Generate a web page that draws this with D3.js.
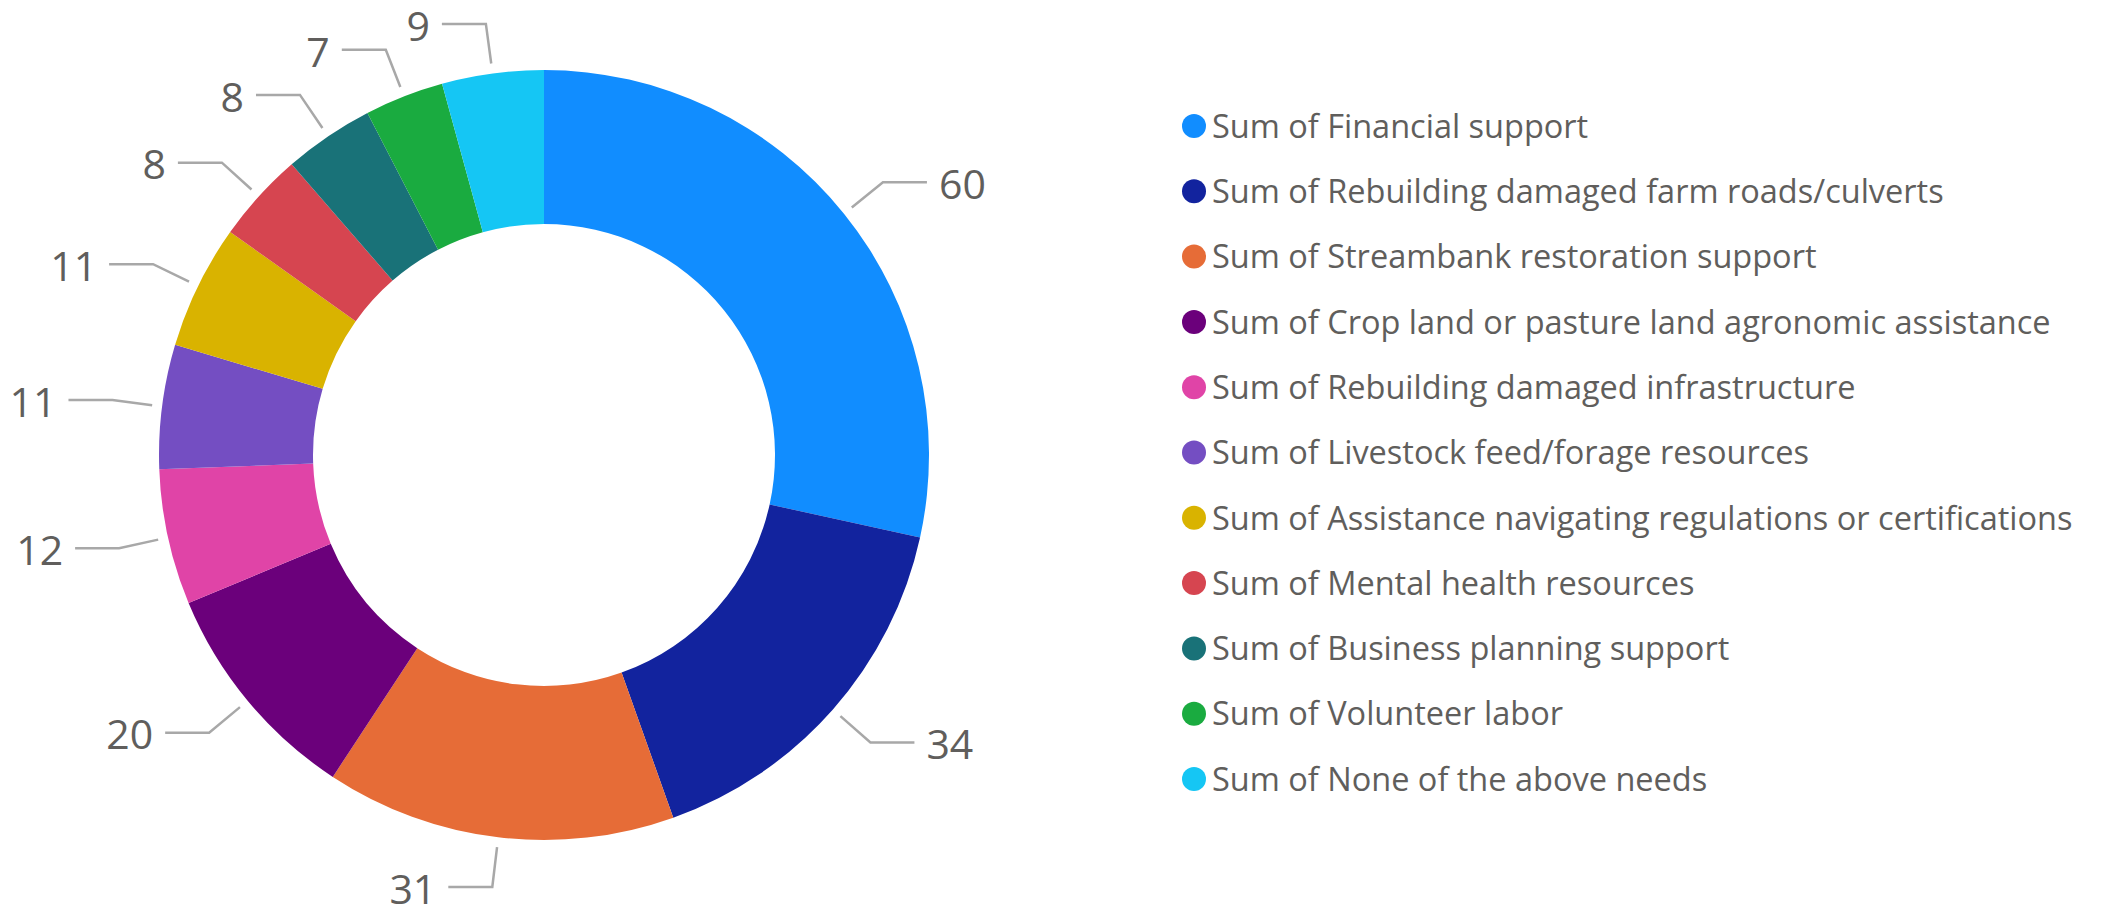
<!DOCTYPE html>
<html>
<head>
<meta charset="utf-8">
<script src="https://cdn.jsdelivr.net/npm/d3@7"></script>
<style>
  html, body { margin: 0; padding: 0; background: #ffffff; }
  svg { display: block; }
</style>
</head>
<body>
<svg id="chart" width="2106" height="907"></svg>
<script>
const categories = [
  "Sum of Financial support",
  "Sum of Rebuilding damaged farm roads/culverts",
  "Sum of Streambank restoration support",
  "Sum of Crop land or pasture land agronomic assistance",
  "Sum of Rebuilding damaged infrastructure",
  "Sum of Livestock feed/forage resources",
  "Sum of Assistance navigating regulations or certifications",
  "Sum of Mental health resources",
  "Sum of Business planning support",
  "Sum of Volunteer labor",
  "Sum of None of the above needs"
];
const values = [60, 34, 31, 20, 12, 11, 11, 8, 8, 7, 9];
const colors = ["#118DFF", "#12239E", "#E66C37", "#6B007B", "#E044A7", "#744EC2",
                "#D9B300", "#D64550", "#197278", "#1AAB40", "#15C6F4"];

const svg = d3.select("#chart");
const cx = 544, cy = 455, R = 385, r0 = 231;
const textColor = "#605E5C";
const font = "'Open Sans', 'Noto Sans', sans-serif";

const data = categories.map((c, i) => ({ name: c, value: values[i], color: colors[i] }));
const pie = d3.pie().value(d => d.value).sort(null);
const arcs = pie(data);
const arc = d3.arc().innerRadius(r0).outerRadius(R);

const g = svg.append("g").attr("transform", `translate(${cx},${cy})`);
g.selectAll("path.slice").data(arcs).enter().append("path")
  .attr("class", "slice")
  .attr("d", arc)
  .attr("fill", d => d.data.color);

// leader lines and labels
const startR = R + 10, elbowR = R + 50, hLen = 44, gap = 12;
arcs.forEach(a => {
  const mid = (a.startAngle + a.endAngle) / 2;
  const sx = startR * Math.sin(mid), sy = -startR * Math.cos(mid);
  const ex = elbowR * Math.sin(mid), ey = -elbowR * Math.cos(mid);
  const right = Math.sin(mid) >= 0 && mid < Math.PI;
  const dir = right ? 1 : -1;
  const hx = ex + dir * hLen;
  g.append("path")
    .attr("d", d3.line()([[sx, sy], [ex, ey], [hx, ey]]))
    .attr("fill", "none")
    .attr("stroke", "#A8A8A8")
    .attr("stroke-width", 2.5);
  g.append("text")
    .attr("x", hx + dir * gap)
    .attr("y", ey + 2)
    .attr("dy", "0.36em")
    .attr("text-anchor", right ? "start" : "end")
    .attr("font-family", font)
    .attr("font-size", 41)
    .attr("fill", textColor)
    .text(a.data.value);
});

// legend
const legendY = d3.scalePoint().domain(categories).range([126, 779]);
const lg = svg.append("g");
const items = lg.selectAll("g.item").data(data).enter().append("g")
  .attr("class", "item")
  .attr("transform", d => `translate(0,${legendY(d.name)})`);
items.append("circle")
  .attr("cx", 1194).attr("cy", 0).attr("r", 12)
  .attr("fill", d => d.color);
items.append("text")
  .attr("x", 1212).attr("y", 0).attr("dy", "0.36em")
  .attr("font-family", font)
  .attr("font-size", 32.5)
  .attr("fill", textColor)
  .text(d => d.name);
</script>
</body>
</html>
